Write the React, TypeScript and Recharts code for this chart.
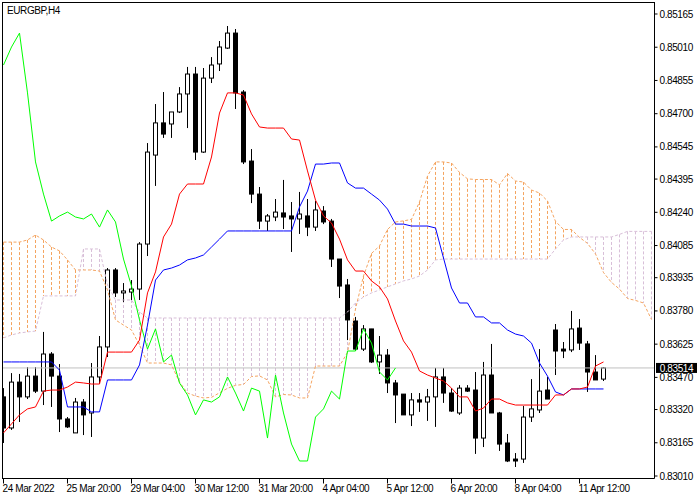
import React from 'react';
import { ComposedChart, Bar, Line, XAxis, YAxis, ReferenceLine } from 'recharts';

const symbolTitle = 'EURGBP,H4';

const opens = [
  0.83379, 0.83234, 0.83448, 0.83379, 0.83476, 0.83406, 0.83579, 0.83476, 0.83276, 0.83211,
  0.83355, 0.83304, 0.83472, 0.83612, 0.83971, 0.83864, 0.83868, 0.83882, 0.84092, 0.84507,
  0.84657, 0.84652, 0.84708, 0.84792, 0.84885, 0.84521, 0.84866, 0.84932, 0.85006, 0.85076,
  0.84801, 0.84479, 0.84325, 0.84199, 0.84218, 0.84237, 0.84223, 0.84209, 0.84223, 0.84171,
  0.84246, 0.84199, 0.84022, 0.83901, 0.83733, 0.83602, 0.83696, 0.83542, 0.83574, 0.83444,
  0.83392, 0.83295, 0.83365, 0.83355, 0.83379, 0.83472, 0.83397, 0.83304, 0.83420, 0.83411,
  0.83187, 0.83481, 0.83304, 0.83164, 0.83089, 0.83089, 0.83285, 0.83318, 0.83411, 0.83691,
  0.83602, 0.83598, 0.83700, 0.83626, 0.83495, 0.83462,
];

const highs = [
  0.83420, 0.83490, 0.83486, 0.83518, 0.83518, 0.83682, 0.83588, 0.83532, 0.83285, 0.83374,
  0.83369, 0.83537, 0.83663, 0.83980, 0.83980, 0.83910, 0.83924, 0.84101, 0.84563, 0.84745,
  0.84801, 0.84708, 0.84824, 0.84918, 0.84918, 0.84913, 0.84964, 0.85039, 0.85109, 0.85095,
  0.84810, 0.84535, 0.84358, 0.84232, 0.84302, 0.84391, 0.84288, 0.84335, 0.84302, 0.84293,
  0.84269, 0.84209, 0.84022, 0.83929, 0.83752, 0.83714, 0.83696, 0.83663, 0.83602, 0.83458,
  0.83392, 0.83397, 0.83397, 0.83416, 0.83514, 0.83514, 0.83420, 0.83434, 0.83434, 0.83495,
  0.83542, 0.83626, 0.83309, 0.83206, 0.83117, 0.83337, 0.83462, 0.83602, 0.83472, 0.83719,
  0.83635, 0.83780, 0.83742, 0.83640, 0.83574, 0.83518,
];

const lows = [
  0.83164, 0.83225, 0.83262, 0.83369, 0.83397, 0.83341, 0.83332, 0.83215, 0.83234, 0.83211,
  0.83201, 0.83192, 0.83439, 0.83565, 0.83845, 0.83822, 0.83831, 0.83831, 0.84036, 0.84363,
  0.84587, 0.84587, 0.84703, 0.84633, 0.84484, 0.84517, 0.84843, 0.84899, 0.85002, 0.84722,
  0.84465, 0.84283, 0.84162, 0.84153, 0.84199, 0.84162, 0.84055, 0.84139, 0.84129, 0.84153,
  0.84185, 0.83985, 0.83840, 0.83644, 0.83593, 0.83593, 0.83537, 0.83486, 0.83397, 0.83257,
  0.83295, 0.83243, 0.83309, 0.83267, 0.83239, 0.83351, 0.83309, 0.83295, 0.83402, 0.83113,
  0.83145, 0.83304, 0.83127, 0.83075, 0.83052, 0.83071, 0.83262, 0.83304, 0.83369, 0.83481,
  0.83560, 0.83588, 0.83598, 0.83402, 0.83458, 0.83453,
];

const closes = [
  0.83234, 0.83448, 0.83379, 0.83476, 0.83406, 0.83579, 0.83476, 0.83276, 0.83239, 0.83355,
  0.83295, 0.83472, 0.83612, 0.83971, 0.83864, 0.83873, 0.83882, 0.84092, 0.84521, 0.84657,
  0.84605, 0.84708, 0.84792, 0.84885, 0.84521, 0.84866, 0.84927, 0.85011, 0.85076, 0.84797,
  0.84475, 0.84325, 0.84199, 0.84223, 0.84241, 0.84218, 0.84209, 0.84232, 0.84171, 0.84251,
  0.84195, 0.84022, 0.83896, 0.83738, 0.83602, 0.83696, 0.83542, 0.83574, 0.83444, 0.83388,
  0.83295, 0.83365, 0.83355, 0.83379, 0.83472, 0.83397, 0.83313, 0.83420, 0.83406, 0.83187,
  0.83481, 0.83304, 0.83159, 0.83080, 0.83080, 0.83285, 0.83323, 0.83406, 0.83369, 0.83593,
  0.83593, 0.83696, 0.83630, 0.83495, 0.83458, 0.83514,
];

const tenkanSen = [
  0.83211, 0.83253, 0.83295, 0.83323, 0.83332, 0.83406, 0.83411, 0.83411, 0.83425, 0.83448,
  0.83444, 0.83439, 0.83439, 0.83588, 0.83588, 0.83588, 0.83588, 0.83644, 0.83864, 0.83962,
  0.84125, 0.84185, 0.84325, 0.84372, 0.84372, 0.84372, 0.84498, 0.84703, 0.84797, 0.84797,
  0.84787, 0.84699, 0.84638, 0.84633, 0.84633, 0.84633, 0.84582, 0.84577, 0.84433, 0.84297,
  0.84223, 0.84190, 0.84115, 0.84018, 0.83966, 0.83966, 0.83920, 0.83892, 0.83836, 0.83733,
  0.83640, 0.83588, 0.83500, 0.83481, 0.83467, 0.83453, 0.83420, 0.83379, 0.83379, 0.83313,
  0.83327, 0.83369, 0.83369, 0.83351, 0.83341, 0.83341, 0.83341, 0.83341, 0.83341, 0.83388,
  0.83388, 0.83416, 0.83416, 0.83425, 0.83523, 0.83542,
];

const kijunSen = [
  0.83542, 0.83542, 0.83542, 0.83542, 0.83542, 0.83542, 0.83542, 0.83504, 0.83332, 0.83332,
  0.83332, 0.83309, 0.83309, 0.83458, 0.83458, 0.83458, 0.83458, 0.83528, 0.83714, 0.83924,
  0.83971, 0.83980, 0.83994, 0.84018, 0.84027, 0.84041, 0.84078, 0.84115, 0.84153, 0.84153,
  0.84153, 0.84153, 0.84153, 0.84153, 0.84153, 0.84153, 0.84153, 0.84265, 0.84339, 0.84465,
  0.84465, 0.84470, 0.84470, 0.84377, 0.84353, 0.84353, 0.84325, 0.84297, 0.84255, 0.84185,
  0.84185, 0.84176, 0.84176, 0.84176, 0.84167, 0.84027, 0.83887, 0.83817, 0.83817, 0.83752,
  0.83752, 0.83724, 0.83724, 0.83691, 0.83672, 0.83663, 0.83630, 0.83537, 0.83476, 0.83402,
  0.83388, 0.83416, 0.83416, 0.83416, 0.83416, 0.83416,
];

const chikouSpan = [
  0.84927, 0.85011, 0.85076, 0.84797, 0.84475, 0.84325, 0.84199, 0.84223, 0.84241, 0.84218,
  0.84209, 0.84232, 0.84171, 0.84251, 0.84195, 0.84022, 0.83896, 0.83738, 0.83602, 0.83696,
  0.83542, 0.83574, 0.83444, 0.83388, 0.83295, 0.83365, 0.83355, 0.83379, 0.83472, 0.83397,
  0.83313, 0.83420, 0.83406, 0.83187, 0.83481, 0.83304, 0.83159, 0.83080, 0.83080, 0.83285,
  0.83323, 0.83406, 0.83369, 0.83593, 0.83593, 0.83696, 0.83630, 0.83495, 0.83458, 0.83514,
];

const senkouA = [
  0.84101, 0.84101, 0.84101, 0.84111, 0.84134, 0.84111, 0.84078, 0.84060, 0.84018, 0.83971,
  0.83971, 0.83971, 0.83966, 0.83878, 0.83738, 0.83714, 0.83691, 0.83621, 0.83537, 0.83537,
  0.83537, 0.83528, 0.83448, 0.83397, 0.83383, 0.83374, 0.83377, 0.83398, 0.83419, 0.83433,
  0.83437, 0.83474, 0.83477, 0.83458, 0.83379, 0.83390, 0.83388, 0.83374, 0.83374, 0.83523,
  0.83523, 0.83523, 0.83523, 0.83586, 0.83789, 0.83943, 0.84048, 0.84083, 0.84160, 0.84195,
  0.84200, 0.84207, 0.84288, 0.84409, 0.84475, 0.84475, 0.84470, 0.84426, 0.84396, 0.84393,
  0.84393, 0.84393, 0.84368, 0.84421, 0.84386, 0.84381, 0.84344, 0.84330, 0.84293, 0.84198,
  0.84160, 0.84160, 0.84123, 0.84095, 0.84046, 0.83959, 0.83913, 0.83882, 0.83838, 0.83829,
  0.83817, 0.83740,
];

const senkouB = [
  0.83654, 0.83668, 0.83677, 0.83682, 0.83686, 0.83850, 0.83850, 0.83850, 0.83850, 0.83850,
  0.84069, 0.84069, 0.84069, 0.83901, 0.83831, 0.83831, 0.83831, 0.83775, 0.83747, 0.83747,
  0.83747, 0.83747, 0.83747, 0.83747, 0.83747, 0.83747, 0.83747, 0.83747, 0.83747, 0.83747,
  0.83747, 0.83747, 0.83747, 0.83747, 0.83747, 0.83747, 0.83747, 0.83747, 0.83747, 0.83747,
  0.83747, 0.83747, 0.83747, 0.83775, 0.83817, 0.83845, 0.83864, 0.83878, 0.83892, 0.83906,
  0.83920, 0.83929, 0.83943, 0.83971, 0.84018, 0.84022, 0.84022, 0.84022, 0.84022, 0.84022,
  0.84022, 0.84022, 0.84022, 0.84022, 0.84022, 0.84022, 0.84022, 0.84022, 0.84022, 0.84069,
  0.84111, 0.84125, 0.84125, 0.84125, 0.84125, 0.84125, 0.84125, 0.84137, 0.84151, 0.84151,
  0.84151, 0.84151,
];

const xTickBars = [0, 8, 16, 24, 32, 40, 48, 56, 64, 72];
const xTickLabels = [
  '24 Mar 2022', '25 Mar 20:00', '29 Mar 04:00', '30 Mar 12:00', '31 Mar 20:00',
  '4 Apr 04:00', '5 Apr 12:00', '6 Apr 20:00', '8 Apr 04:00', '11 Apr 12:00',
];
const priceTicks = [
  0.85165, 0.8501, 0.84855, 0.847, 0.84545, 0.84395, 0.8424, 0.84085, 0.83935, 0.8378,
  0.83625, 0.8347, 0.8332, 0.83165, 0.8301,
];
const lastPrice = 0.83514;

const priceDomain: [number, number] = [0.8299834, 0.8521864];
const barDomain: [number, number] = [-0.125, 81.375];

const FONT = "'Liberation Sans', Arial, sans-serif";
const FONT_SIZE = 10;
const LETTER_SPACING = -0.4;
const SPAN_A_COLOR = '#F4A460';
const SPAN_B_COLOR = '#D8BFD8';

const data = senkouA.map((a, i) => {
  const b = senkouB[i];
  const has = i < opens.length;
  const vals = has ? [a, b, highs[i], lows[i]] : [a, b];
  return {
    i,
    o: has ? opens[i] : null,
    h: has ? highs[i] : null,
    l: has ? lows[i] : null,
    c: has ? closes[i] : null,
    tenkan: i < tenkanSen.length ? tenkanSen[i] : null,
    kijun: i < kijunSen.length ? kijunSen[i] : null,
    chikou: i < chikouSpan.length ? chikouSpan[i] : null,
    spanA: a,
    spanB: b,
    range: [Math.min(...vals), Math.max(...vals)],
  };
});

function BarShape(props: any) {
  const { x, y, width, height, payload } = props;
  if (!payload || x == null || y == null || !isFinite(x) || !isFinite(y)) return <g />;
  const [lo, hi] = payload.range;
  const top = Math.min(y, y + height);
  const bot = Math.max(y, y + height);
  const py = (v: number) => (hi > lo ? top + ((hi - v) / (hi - lo)) * (bot - top) : top);
  const cx = Math.floor(x + width / 2) + 0.5;
  const ya = py(payload.spanA);
  const yb = py(payload.spanB);
  const cloudColor = payload.spanA >= payload.spanB ? SPAN_A_COLOR : SPAN_B_COLOR;
  const parts: any[] = [
    <line key="cl" x1={cx} x2={cx} y1={Math.min(ya, yb)} y2={Math.max(ya, yb)} stroke={cloudColor} strokeWidth={1} strokeDasharray="3 2" />,
  ];
  if (payload.o != null) {
    const yh = py(payload.h);
    const yl = py(payload.l);
    const yo = py(payload.o);
    const yc = py(payload.c);
    const bull = payload.c >= payload.o;
    const bt = Math.min(yo, yc);
    const bb = Math.max(yo, yc);
    parts.push(<line key="w" x1={cx} x2={cx} y1={yh} y2={yl} stroke="#000" strokeWidth={1} />);
    if (bb - bt < 1) {
      const ym = Math.round((bt + bb) / 2) + 0.5;
      parts.push(<line key="d" x1={cx - 2.5} x2={cx + 2.5} y1={ym} y2={ym} stroke="#000" strokeWidth={1} />);
    } else {
      parts.push(
        <rect key="b" x={cx - 2} y={bt} width={4} height={bb - bt} fill={bull ? '#fff' : '#000'} stroke="#000" strokeWidth={1} />
      );
    }
  }
  return <g>{parts}</g>;
}

function TimeTick(props: any) {
  const { x, payload } = props;
  const idx = xTickBars.indexOf(payload.value);
  const label = idx >= 0 ? xTickLabels[idx] : '';
  return (
    <text x={x - 1} y={492} textAnchor="start" fontSize={FONT_SIZE} letterSpacing={LETTER_SPACING} fontFamily={FONT} fill="#000">
      {label}
    </text>
  );
}

function PriceTag(props: any) {
  const vb = props.viewBox || {};
  const x0 = (vb.x ?? 0) + (vb.width ?? 0) + 1.5;
  const y0 = vb.y ?? 0;
  return (
    <g>
      <rect x={x0} y={y0 - 5} width={41} height={10} fill="#000" />
      <text x={x0 + 20.5} y={y0 + 3.6} textAnchor="middle" fontSize={FONT_SIZE} letterSpacing={LETTER_SPACING} fontFamily={FONT} fill="#fff">
        {lastPrice.toFixed(5)}
      </text>
    </g>
  );
}

export default function App() {
  return (
    <div style={{ position: 'fixed', left: 0, top: 0, width: 700, height: 500, background: '#fff' }}>
      <ComposedChart
        width={700}
        height={500}
        data={data}
        margin={{ top: 2.5, right: 0, bottom: 0, left: 2.5 }}
      >
        <XAxis
          xAxisId="main"
          dataKey="i"
          type="number"
          domain={barDomain}
          allowDataOverflow
          ticks={xTickBars}
          interval={0}
          tick={<TimeTick />}
          tickSize={5}
          height={21.5}
          axisLine={{ stroke: '#000' }}
          tickLine={{ stroke: '#000' }}
        />
        <YAxis
          yAxisId="p"
          orientation="right"
          type="number"
          domain={priceDomain}
          allowDataOverflow
          ticks={priceTicks}
          interval={0}
          tickFormatter={(v: number) => v.toFixed(5)}
          width={45.5}
          tickSize={3}
          tickMargin={2}
          tick={{ fontSize: FONT_SIZE, fill: '#000', fontFamily: FONT, letterSpacing: LETTER_SPACING }}
          axisLine={{ stroke: '#000' }}
          tickLine={{ stroke: '#000' }}
        />
        <ReferenceLine xAxisId="main" yAxisId="p" y={lastPrice} stroke="#C0C0C0" strokeWidth={1} label={<PriceTag />} />
        <Bar
          xAxisId="main"
          yAxisId="p"
          dataKey="range"
          barSize={5}
          shape={<BarShape />}
          isAnimationActive={false}
        />
        <Line xAxisId="main" yAxisId="p" dataKey="spanA" stroke={SPAN_A_COLOR} strokeWidth={1} strokeDasharray="3 2" dot={false} activeDot={false} type="linear" isAnimationActive={false} />
        <Line xAxisId="main" yAxisId="p" dataKey="spanB" stroke={SPAN_B_COLOR} strokeWidth={1} strokeDasharray="3 2" dot={false} activeDot={false} type="linear" isAnimationActive={false} />
        <Line xAxisId="main" yAxisId="p" dataKey="chikou" stroke="#00FF00" strokeWidth={1} dot={false} activeDot={false} type="linear" isAnimationActive={false} />
        <Line xAxisId="main" yAxisId="p" dataKey="kijun" stroke="#0000FF" strokeWidth={1} dot={false} activeDot={false} type="linear" isAnimationActive={false} />
        <Line xAxisId="main" yAxisId="p" dataKey="tenkan" stroke="#FF0000" strokeWidth={1} dot={false} activeDot={false} type="linear" isAnimationActive={false} />
      </ComposedChart>
      <div style={{ position: 'absolute', left: 2, top: 2, width: 1, height: 477, background: '#000' }} />
      <div style={{ position: 'absolute', left: 2, top: 2, width: 653, height: 1, background: '#000' }} />
      <div
        style={{
          position: 'absolute',
          left: 7,
          top: 6,
          fontSize: FONT_SIZE,
          letterSpacing: LETTER_SPACING,
          lineHeight: '10px',
          fontFamily: FONT,
          color: '#000',
          whiteSpace: 'nowrap',
        }}
      >
        {symbolTitle}
      </div>
    </div>
  );
}
